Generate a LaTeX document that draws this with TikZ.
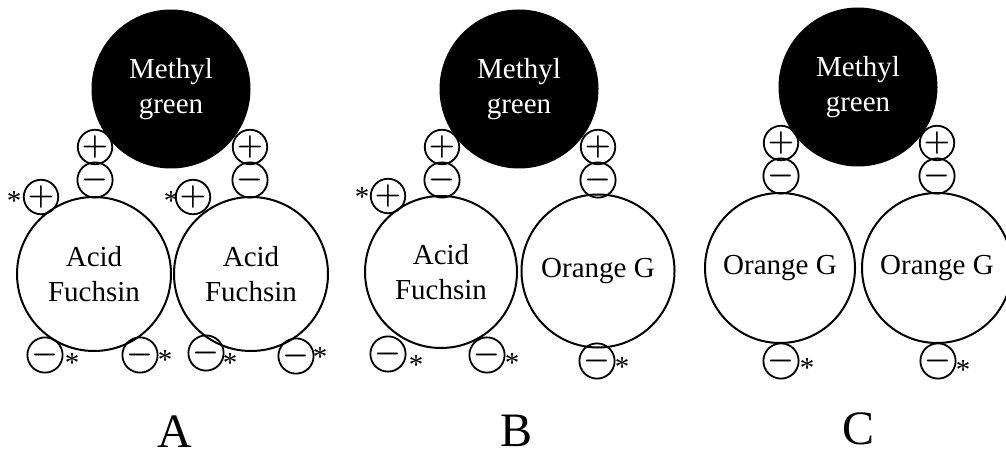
\RequirePackage{fix-cm}
\documentclass[tikz,border=0pt]{standalone}
\usepackage{fontspec}
\setmainfont{Liberation Serif}
\tikzset{
  dye/.style={circle,draw,line width=2pt,minimum size=#1,inner sep=0pt,align=center,font=\fontsize{29}{35}\selectfont},
  methyl/.style={dye=157pt,fill=black,text=white},
  charge/.style={circle,draw,line width=1.8pt,minimum size=34pt,inner sep=0pt,font=\fontsize{30}{30}\selectfont\boldmath},
  starlbl/.style={anchor=base,inner sep=0pt,font=\fontsize{29}{29}\selectfont},
  panellbl/.style={anchor=base,inner sep=0pt,font=\fontsize{48}{48}\selectfont}
}
\begin{document}
\begin{tikzpicture}[x=1pt,y=-1pt]
\useasboundingbox (0,0) rectangle (1006,457);

% A
\node[methyl] (mgA) at (171,89) {Methyl\\green};
\node[charge] (pAl) at (95,147) {$+$};
\node[charge] (mAl) at (95,180) {$-$};
\node[charge] (pAr) at (250,147) {$+$};
\node[charge] (mAr) at (250,180) {$-$};
\node[dye=154pt] (afAl) at (94,274) {Acid\\Fuchsin};
\node[dye=154pt] (afAr) at (251,274) {Acid\\Fuchsin};

\node[charge] (sAl) at (41,197) {$+$};
\node[starlbl] (tAl) at (14,211) {*};
\node[charge] (sAr) at (193,197) {$+$};
\node[starlbl] (tAr) at (171,211) {*};

\node[charge] (bA1) at (45,355) {$-$};
\node[starlbl] (tA1) at (72,372) {*};
\node[charge] (bA2) at (140,355) {$-$};
\node[starlbl] (tA2) at (165,369) {*};
\node[charge] (bA3) at (206,353) {$-$};
\node[starlbl] (tA3) at (230,372) {*};
\node[charge] (bA4) at (296,356) {$-$};
\node[starlbl] (tA4) at (320,366) {*};

\node[panellbl] (lblA) at (175,447) {A};

% B
\node[methyl] (mgB) at (519,89) {Methyl\\green};
\node[charge] (pBl) at (442,147) {$+$};
\node[charge] (mBl) at (442,180) {$-$};
\node[charge] (pBr) at (598,147) {$+$};
\node[charge] (mBr) at (598,180) {$-$};
\node[dye=152pt] (afB) at (441,272) {Acid\\Fuchsin};
\node[dye=153pt] (ogB) at (598,271) {Orange G};

\node[charge] (sBl) at (388,196) {$+$};
\node[starlbl] (tBl) at (362,207) {*};

\node[charge] (bB1) at (388,354) {$-$};
\node[starlbl] (tB1) at (416,374) {*};
\node[charge] (bB2) at (487,355) {$-$};
\node[starlbl] (tB2) at (512,372) {*};
\node[charge] (bB3) at (597,361) {$-$};
\node[starlbl] (tB3) at (622,376) {*};

\node[panellbl] (lblB) at (517,446) {B};

% C
\node[methyl] (mgC) at (858,87) {Methyl\\green};
\node[charge] (pCl) at (781,143) {$+$};
\node[charge] (mCl) at (781,176) {$-$};
\node[charge] (pCr) at (937,143) {$+$};
\node[charge] (mCr) at (937,176) {$-$};
\node[dye=150pt] (ogCl) at (780,268) {Orange G};
\node[dye=150pt] (ogCr) at (937,268) {Orange G};

\node[charge] (bC1) at (781,361) {$-$};
\node[starlbl] (tC1) at (807,377) {*};
\node[charge] (bC2) at (938,361) {$-$};
\node[starlbl] (tC2) at (963,379) {*};

\node[panellbl] (lblC) at (858,444) {C};
\end{tikzpicture}
\end{document}
